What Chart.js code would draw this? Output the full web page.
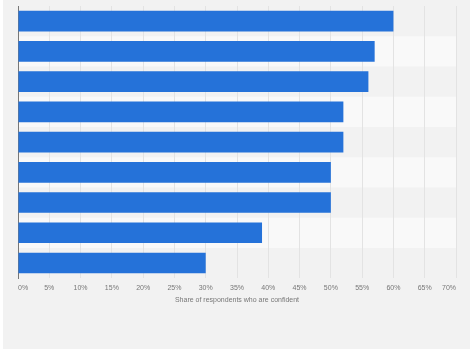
<!DOCTYPE html>
<html>
<head>
<meta charset="utf-8">
<script src="https://cdn.jsdelivr.net/npm/chart.js"></script>
<style>
    html, body { margin: 0; padding: 0; background: #ffffff; }
    #wrap { width: 474px; height: 352px; position: relative; }
</style>
</head>
<body>
<div id="wrap"><canvas id="chart" width="474" height="352"></canvas></div>
<script>
// categories are not labelled in the picture
const categories = ["1", "2", "3", "4", "5", "6", "7", "8", "9"];
const shareConfident = [60, 57, 56, 52, 52, 50, 50, 39, 30];
const tickValues = [0, 5, 10, 15, 20, 25, 30, 35, 40, 45, 50, 55, 60, 65, 70];
const axisTitle = "Share of respondents who are confident";

// grey card behind the chart, white band on every other row
const backdrop = {
    id: "backdrop",
    beforeDraw(chart) {
        const ctx = chart.ctx;
        const area = chart.chartArea;
        const y = chart.scales.y;
        ctx.save();
        ctx.fillStyle = "#ffffff";
        ctx.fillRect(0, 0, chart.width, chart.height);
        ctx.fillStyle = "#f2f2f2";
        ctx.fillRect(3, 0, 467, 349);
        const step = (area.bottom - area.top) / categories.length;
        ctx.fillStyle = "#f9f9f9";
        categories.forEach((c, i) => {
            if (i % 2 === 1) {
                const mid = y.getPixelForValue(i);
                ctx.fillRect(area.left, mid - step / 2, area.right - area.left, step);
            }
        });
        ctx.restore();
    }
};

new Chart(document.getElementById("chart").getContext("2d"), {
    type: "bar",
    data: {
        labels: categories,
        datasets: [{
            data: shareConfident,
            backgroundColor: "#2572d9",
            borderWidth: 0,
            categoryPercentage: 1,
            barPercentage: 0.68
        }]
    },
    options: {
        indexAxis: "y",
        responsive: false,
        animation: false,
        layout: {
            padding: { left: 10, right: 18, top: 6, bottom: 48 }
        },
        plugins: {
            legend: { display: false },
            tooltip: { enabled: false }
        },
        scales: {
            x: {
                min: 0,
                max: 70,
                afterBuildTicks(axis) {
                    axis.ticks = tickValues.map(v => ({ value: v }));
                },
                grid: {
                    color: "#e3e3e3",
                    drawTicks: false
                },
                border: { display: false },
                ticks: {
                    align: "inner",
                    padding: 6,
                    color: "#777777",
                    font: { family: "Liberation Sans", size: 7 },
                    callback: v => v + "%"
                },
                title: {
                    display: true,
                    text: axisTitle,
                    color: "#777777",
                    padding: { top: -3, bottom: 0 },
                    font: { family: "Liberation Sans", size: 7 }
                }
            },
            y: {
                grid: { display: false },
                border: { display: true, color: "#777777", width: 1 },
                ticks: { display: false }
            }
        }
    },
    plugins: [backdrop]
});
</script>
</body>
</html>
